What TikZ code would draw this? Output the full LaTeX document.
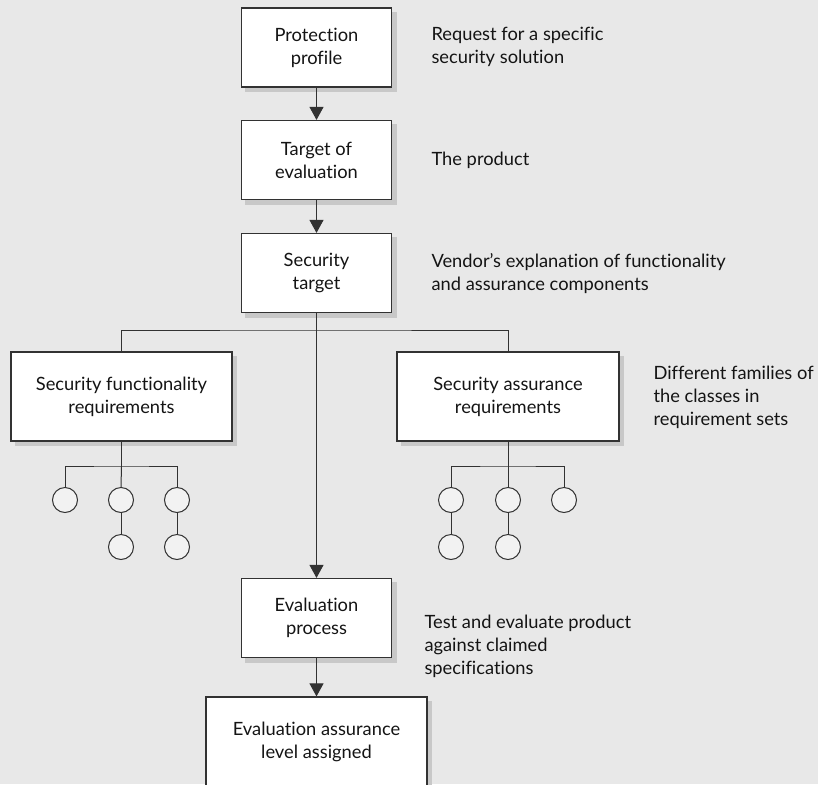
\documentclass[tikz,border=0pt]{standalone}
\usepackage{fontspec}
\setmainfont{Lato}[Ligatures={NoCommon}]
\usepackage{tikz}
\usetikzlibrary{arrows.meta}
\definecolor{bggray}{RGB}{232, 232, 232}
\definecolor{shadowgray}{RGB}{200, 200, 200}
\definecolor{circfill}{RGB}{242, 242, 242}
\definecolor{linegray}{RGB}{50, 50, 50}
\definecolor{textgray}{RGB}{20, 20, 20}
\pgfdeclarelayer{background}
\pgfsetlayers{background,main}

\tikzset{
  stagebox/.style={draw=linegray, line width=1.2pt, fill=white, align=center,
    text=textgray, font=\fontsize{18.3}{23}\selectfont, inner sep=0pt},
  famcircle/.style={circle, draw=linegray, line width=1pt, fill=circfill,
    minimum size=25pt, inner sep=0pt},
  notetext/.style={anchor=west, align=left, text=textgray,
    font=\fontsize{18.3}{23}\selectfont},
  flowarrow/.style={draw=linegray, line width=1pt, -{Triangle[width=14pt, length=13pt]}},
  treeline/.style={draw=linegray, line width=1pt}
}

\begin{document}
\begin{tikzpicture}[x=1pt, y=-1pt]
  \def\bw{150pt}
  \def\bh{79pt}

  \useasboundingbox (0,0) rectangle (818,784);

  % main chain
  \node[stagebox, minimum width=\bw, minimum height=\bh] (pp)  at (316.5, 47.5) {Protection\\profile};
  \node[stagebox, minimum width=\bw, minimum height=\bh] (toe) at (316.5, 160)  {Target of\\evaluation};
  \node[stagebox, minimum width=\bw, minimum height=\bh] (st)  at (316.5, 273)  {Security\\target};
  \node[stagebox, minimum width=\bw, minimum height=\bh] (ep)  at (316.5, 618)  {Evaluation\\process};
  \node[stagebox, minimum width=221pt, minimum height=89pt] (eal) at (316.5, 741.5) {Evaluation assurance\\level assigned};

  % requirement boxes
  \node[stagebox, minimum width=221pt, minimum height=89pt] (sfr) at (121.5, 396.5) {Security functionality\\requirements};
  \node[stagebox, minimum width=222pt, minimum height=89pt] (sar) at (508, 396.5)   {Security assurance\\requirements};

  % background and box shadows
  \begin{pgfonlayer}{background}
    \fill[bggray] (0,0) rectangle (818,784);
    \foreach \bx in {pp, toe, st, ep, eal, sfr, sar}
      \fill[shadowgray] ([shift={(4.5pt,-4.5pt)}]\bx.south west) rectangle ([shift={(4.5pt,-4.5pt)}]\bx.north east);
  \end{pgfonlayer}

  % families under functionality
  \node[famcircle] (f1) at (65, 500)  {};
  \node[famcircle] (f2) at (121, 500) {};
  \node[famcircle] (f3) at (177, 500) {};
  \node[famcircle] (f4) at (121, 547) {};
  \node[famcircle] (f5) at (177, 547) {};

  % families under assurance
  \node[famcircle] (a1) at (451, 500) {};
  \node[famcircle] (a2) at (508, 500) {};
  \node[famcircle] (a3) at (564, 500) {};
  \node[famcircle] (a4) at (451, 547) {};
  \node[famcircle] (a5) at (508, 547) {};

  \coordinate (split) at (316.5, 330);
  \coordinate (fbar)  at (121.5, 466);
  \coordinate (abar)  at (508, 466);

  % connectors
  \draw[flowarrow] (pp) -- (toe);
  \draw[flowarrow] (toe) -- (st);
  \draw[flowarrow] (st) -- (ep);
  \draw[flowarrow] (ep) -- (eal);
  \draw[treeline] (sfr.north) |- (split) -| (sar.north);

  \draw[treeline] (sfr.south) -- (fbar);
  \draw[treeline] (f1.north) |- (fbar) -| (f3.north);
  \draw[treeline] (fbar) -- (f2.north);
  \draw[treeline] (f2) -- (f4);
  \draw[treeline] (f3) -- (f5);

  \draw[treeline] (sar.south) -- (abar);
  \draw[treeline] (a1.north) |- (abar) -| (a3.north);
  \draw[treeline] (abar) -- (a2.north);
  \draw[treeline] (a1) -- (a4);
  \draw[treeline] (a2) -- (a5);

  % notes
  \node[notetext] (npp)  at (428, 47)  {Request for a specific\\security solution};
  \node[notetext] (ntoe) at (428, 160) {The product};
  \node[notetext] (nst)  at (428, 274) {Vendor’s explanation of functionality\\and assurance components};
  \node[notetext] (nreq) at (650, 397) {Different families of\\the classes in\\requirement sets};
  \node[notetext] (nep)  at (421, 646) {Test and evaluate product\\against claimed\\specifications};
\end{tikzpicture}
\end{document}
